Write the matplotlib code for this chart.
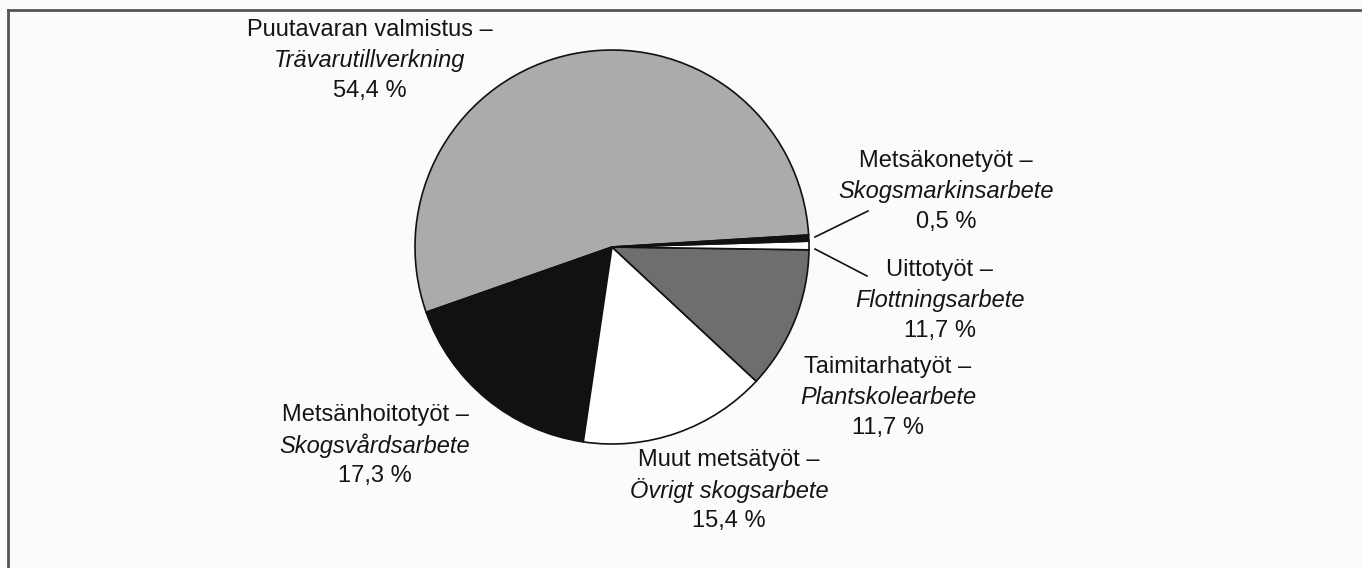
import numpy as np
import matplotlib.pyplot as plt

# =====================================================
# DATA
# =====================================================
names_fi = ["Puutavaran valmistus", "Metsänhoitotyöt", "Muut metsätyöt",
            "Taimitarhatyöt", "Uittotyöt", "Metsäkonetyöt"]
names_sv = ["Trävarutillverkning", "Skogsvårdsarbete", "Övrigt skogsarbete",
            "Plantskolearbete", "Flottningsarbete", "Skogsmarkinsarbete"]
shares = [54.4, 17.3, 15.4, 11.7, 0.7, 0.5]
share_labels = ["54,4 %", "17,3 %", "15,4 %", "11,7 %", "11,7 %", "0,5 %"]

colors = ["#ababab", "#111111", "#ffffff", "#6e6e6e", "#ffffff", "#111111"]

# label anchor (center x, first line y) in pixels
label_pos = [(370, 30), (375, 415), (729, 460), (888, 367), (940, 270), (946, 161)]
line_gap = 30.5

plt.rcParams["font.family"] = ["Liberation Sans", "DejaVu Sans"]

# =====================================================
# FIGURE
# =====================================================
fig = plt.figure(figsize=(13.62, 5.68), dpi=100)
fig.patch.set_facecolor("#fbfbfb")
ax = fig.add_axes([0, 0, 1, 1])

ax.pie(
    shares,
    colors=colors,
    startangle=-3.5,
    counterclock=False,
    center=(612, 247),
    radius=197,
    wedgeprops=dict(edgecolor="#111111", linewidth=1.2),
)

ax.set_xlim(0, 1362)
ax.set_ylim(568, 0)
ax.set_aspect("equal")
ax.axis("off")

# frame (only top and left edges visible)
ax.plot([8, 1362], [10, 10], color="#555555", linewidth=2, clip_on=False)
ax.plot([8, 8], [10, 568], color="#555555", linewidth=2, clip_on=False)

# =====================================================
# LABELS
# =====================================================
for fi, sv, lab, (x, y) in zip(names_fi, names_sv, share_labels, label_pos):
    ax.text(x, y, fi + " –", ha="center", va="center", fontsize=17, color="#151515")
    ax.text(x, y + line_gap, sv, ha="center", va="center", fontsize=17,
            style="italic", color="#151515")
    ax.text(x, y + 2 * line_gap, lab, ha="center", va="center", fontsize=17,
            color="#151515")

# leader lines for the two thin slices
ax.plot([815, 868], [237, 211], color="#111111", linewidth=1.2)
ax.plot([815, 867], [249, 276], color="#111111", linewidth=1.2)

fig.savefig("out.png", dpi=100, facecolor=fig.get_facecolor())
